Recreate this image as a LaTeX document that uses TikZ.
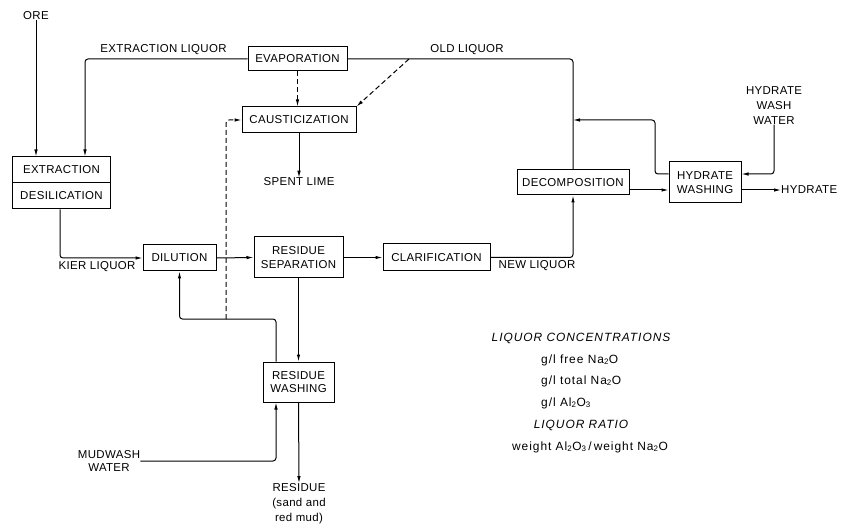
\documentclass[tikz,border=0pt]{standalone}
\usepackage{fontspec}
\setmainfont{Liberation Sans}[LetterSpace=3]
\newfontfamily\legfont{Liberation Sans}[LetterSpace=8]
\usetikzlibrary{arrows.meta,calc}
\tikzset{
  box/.style={draw, line width=1bp, inner sep=0pt, font=\fontsize{11.5}{13.5}\selectfont, align=center},
  lbl/.style={inner sep=0pt, font=\fontsize{11.5}{15}\selectfont, align=center},
  leg/.style={inner sep=0pt, font=\legfont\fontsize{12}{14}\selectfont},
  legi/.style={inner sep=0pt, font=\legfont\fontsize{12}{14}\selectfont\itshape},
  ln/.style={line width=1bp, rounded corners=3pt},
  arr/.style={ln, -{Latex[length=7bp,width=3.5bp]}},
  dsh/.style={dash pattern=on 5bp off 3bp},
}
\begin{document}
\begin{tikzpicture}[x=1bp,y=-1bp]
\useasboundingbox (0,0) rectangle (842,524);
% boxes
\node[box, minimum width=97bp, minimum height=26bp] (ext) at (61.5,170) {EXTRACTION};
\node[box, minimum width=97bp, minimum height=26bp] (desil) at (61.5,196) {DESILICATION};
\node[box, minimum width=99bp, minimum height=24bp] (evap) at (297.5,59) {EVAPORATION};
\node[box, minimum width=114bp, minimum height=26bp] (caus) at (299,120) {CAUSTICIZATION};
\node[box, minimum width=112bp, minimum height=25bp] (decomp) at (573,182.5) {DECOMPOSITION};
\node[box, minimum width=72bp, minimum height=41bp] (hw) at (705,182.5) {HYDRATE\\WASHING};
\node[box, minimum width=73bp, minimum height=26bp] (dil) at (179.5,258) {DILUTION};
\node[box, minimum width=89bp, minimum height=41bp] (rsep) at (298.5,257.5) {RESIDUE\\SEPARATION};
\node[box, minimum width=107bp, minimum height=27bp] (clar) at (436.5,257.5) {CLARIFICATION};
\node[box, minimum width=71bp, minimum height=40bp] (rwash) at (298.5,382) {RESIDUE\\WASHING};
% labels
\node[lbl] (ore) at (36,16) {ORE};
\node[lbl] (exliq) at (163.5,50) {EXTRACTION LIQUOR};
\node[lbl] (oldliq) at (467,50) {OLD LIQUOR};
\node[lbl] (spent) at (299,182) {SPENT LIME};
\node[lbl] (kier) at (97,267) {KIER LIQUOR};
\node[lbl] (newliq) at (537,266) {NEW LIQUOR};
\node[lbl] (hww) at (774,105.5) {HYDRATE\\WASH\\WATER};
\node[lbl, anchor=west] (hydr) at (781,190) {HYDRATE};
\node[lbl, font=\fontsize{11.5}{14}\selectfont] (mud) at (109,461) {MUDWASH\\WATER};
\node[lbl] (res) at (299,503.5) {RESIDUE\\(sand and\\red mud)};
% legend
\node[legi] (lc) at (581,338) {LIQUOR CONCENTRATIONS};
\node[leg, anchor=west] (l1) at (541,360) {g/l free Na\textsubscript{2}O};
\node[leg, anchor=west] (l2) at (541,381) {g/l total Na\textsubscript{2}O};
\node[leg, anchor=west] (l3) at (541,403) {g/l Al\textsubscript{2}O\textsubscript{3}};
\node[legi] (lr) at (581,425) {LIQUOR RATIO};
\node[leg] (lw) at (590,447) {weight Al\textsubscript{2}O\textsubscript{3}\,/\,weight Na\textsubscript{2}O};
% coordinates
\coordinate (dstart) at (409,59);
\coordinate (dj) at (226,319);
\coordinate (ylow) at (0,190);
\coordinate (yhi) at (0,174);
\coordinate (y120) at (0,120);
\coordinate (j1) at (decomp.north |- y120);
\coordinate (bend) at (655,120);
\coordinate (rwx) at (276,0);
% connectors
\draw[arr] (ore.south) -- (ore.south |- ext.north);
\draw[arr] (evap.west) -| ($(ext.north)+(23.5,0)$);
\draw[arr,dsh] (evap.south) -- (evap.south |- caus.north);
\draw[ln] (evap.east) -| (decomp.north);
\draw[arr,dsh] (dstart) -- (caus.north east);
\draw[arr] (caus.south) -- (spent.north);
\draw[arr,dsh] (dj) |- (caus.west);
\draw[arr] ($(desil.south)+(-1.5,0)$) |- (dil.west);
\draw[arr] (dil.east) -- (rsep.west);
\draw[arr] (rsep.east) -- (clar.west);
\draw[arr] (clar.east) -| (decomp.south);
\draw[arr] (decomp.east |- ylow) -- (hw.west |- ylow);
\draw[arr] (hw.east |- ylow) -- (hydr.west);
\draw[arr] (hww.south) |- (hw.east |- yhi);
\draw[arr] (hw.west |- yhi) -| (bend) -- (j1);
\draw[arr] (rsep.south) -- (rwash.north);
\draw[arr] (rwash.north -| rwx) |- (dj) -| (dil.south);
\draw[arr] (mud.east) -| (rwash.south -| rwx);
\draw[arr] (rwash.south) -- (res.north);
\end{tikzpicture}
\end{document}
